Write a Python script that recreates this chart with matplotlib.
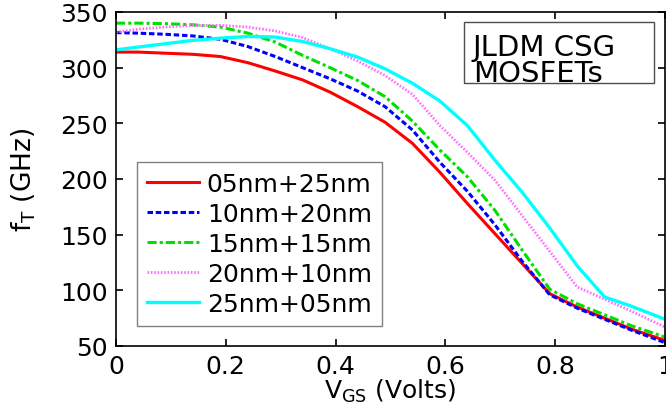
import matplotlib
matplotlib.use("Agg")
import matplotlib.pyplot as plt
from matplotlib.patches import Rectangle

# Gate voltage sweep (V) and cut-off frequency (GHz) for each gate split
vgs = [0, 0.04, 0.09, 0.14, 0.19, 0.24, 0.29, 0.34, 0.39, 0.44, 0.49,
       0.54, 0.59, 0.64, 0.69, 0.74, 0.79, 0.84, 0.89, 0.94, 1.0]

ft_05_25 = [314, 314, 313, 312, 310, 304.5, 297, 289, 278, 265, 251,
            232, 206, 178, 151, 124, 97, 85, 75, 65, 55]
ft_10_20 = [331.5, 331, 330, 328.5, 325.5, 319, 310, 300, 290, 279, 265,
            244, 215, 189, 159, 126, 96, 84, 74, 64, 53]
ft_15_15 = [340, 340, 339.5, 338.5, 336.5, 331, 323, 311, 300, 288.5, 274,
            252, 226, 202, 172, 136, 101, 88, 78, 68, 58]
ft_20_10 = [332, 334.5, 336.5, 338, 338, 336.5, 333, 327, 317, 306, 293,
            276, 248, 224, 199, 167, 135, 103, 92, 81, 67]
ft_25_05 = [316, 318.5, 321.5, 324.5, 326.5, 328, 327.5, 323.5, 317, 309.5, 299,
            286, 270, 248, 217, 188, 156, 122, 94, 85.5, 74]

labels = ["05nm+25nm", "10nm+20nm", "15nm+15nm", "20nm+10nm", "25nm+05nm"]

plt.rcParams['font.family'] = 'DejaVu Sans'
plt.rcParams['mathtext.default'] = 'regular'

fig = plt.figure(figsize=(6.66, 4.10), dpi=100)
ax = fig.add_axes([116 / 666, 63 / 410, 549 / 666, 334 / 410])

ax.plot(vgs, ft_05_25, color='#ff0000', lw=2.2, ls='-', label=labels[0])
ax.plot(vgs, ft_10_20, color='#0000ff', lw=2.2, dashes=(1.8, 0.9), label=labels[1])
ax.plot(vgs, ft_15_15, color='#00e000', lw=2.2, dashes=(3, 1, 1, 1), label=labels[2])
ax.plot(vgs, ft_20_10, color='#ff70ff', lw=2.0, dashes=(0.6, 0.6), label=labels[3])
ax.plot(vgs, ft_25_05, color='#00ffff', lw=2.4, ls='-', label=labels[4])

ax.set_xlim(0, 1)
ax.set_ylim(50, 350)
ax.set_xticks([0, 0.2, 0.4, 0.6, 0.8, 1])
ax.set_xticklabels(['0', '0.2', '0.4', '0.6', '0.8', '1'])
ax.set_yticks([50, 100, 150, 200, 250, 300, 350])
ax.tick_params(direction='in', top=True, right=True, length=5, width=1.2,
               labelsize=18, pad=6)
for s in ax.spines.values():
    s.set_linewidth(1.2)

ax.set_xlabel('V$_{GS}$ (Volts)', fontsize=18, labelpad=-1)
ax.set_ylabel('f$_T$ (GHz)', fontsize=19, labelpad=16)

leg = ax.legend(loc='lower left', bbox_to_anchor=(0.038, 0.06), borderaxespad=0,
                fontsize=18, handlelength=2.1, handletextpad=0.3,
                labelspacing=0.24, borderpad=0.4, fancybox=False, framealpha=1)
leg.get_frame().set_edgecolor('0.5')
leg.get_frame().set_linewidth(1.0)

# device label box in the upper right corner
ax.add_patch(Rectangle((0.634, 0.787), 0.346, 0.183, transform=ax.transAxes,
                       facecolor='white', edgecolor='0.3', lw=1.0, zorder=5))
ax.text(0.650, 0.938, 'JLDM CSG\nMOSFETs', transform=ax.transAxes,
        ha='left', va='top', fontsize=21, linespacing=0.92, zorder=6)

fig.savefig('out.png', dpi=100)
